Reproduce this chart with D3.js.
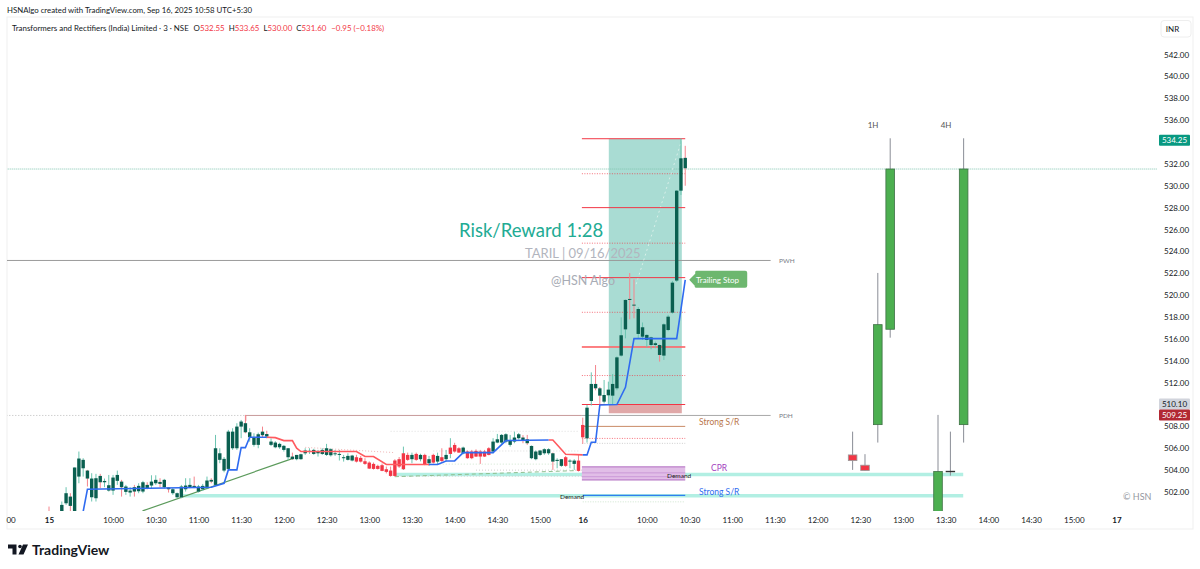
<!DOCTYPE html>
<html><head><meta charset="utf-8">
<script src="https://cdn.jsdelivr.net/npm/d3@7/dist/d3.min.js"></script>
<style>html,body{margin:0;background:#fff}svg{display:block}text{font-family:Lato,"Open Sans",sans-serif}</style>
</head><body><div id="c"></div>
<script>
// [open, high, low, close] per 3-minute bar, session of the 15th
const bars15 = [[500.2,500.67,499.5,499.9],[499.8,500.1,499.4,499.9],[499.8,500.1,499.4,499.9],[500.2,501.13,500.0,500.82],[500.97,502.44,500.82,501.89],[501.58,501.89,500.2,500.73],[500.0,504.24,499.8,504.24],[503.41,505.7,502.8,505.06],[504.17,505.09,503.41,504.94],[503.96,504.02,502.5,503.23],
[501.52,503.72,501.13,503.23],[501.43,503.66,501.13,503.26],[503.47,503.66,502.35,502.89],[502.89,503.23,502.44,503.01],[502.13,503.56,502.04,502.62],[502.13,503.56,501.74,503.32],[503.02,503.96,502.65,503.56],[502.95,503.11,501.58,502.44],[502.01,502.65,501.74,502.5],[501.95,502.44,501.58,502.13],
[502.44,502.65,501.58,502.04],[502.07,502.8,501.89,502.56],[502.04,503.02,501.89,502.89],[502.65,502.89,502.25,502.35],[502.59,503.53,502.35,502.95],[502.8,503.53,502.65,503.11],[502.92,503.26,502.44,502.74],[502.44,503.2,502.32,503.11],[502.41,502.44,501.95,502.25],[501.89,502.35,501.74,502.25],
[501.52,501.95,501.43,501.89],[501.52,502.65,501.43,502.5],[502.25,503.26,502.04,502.59],[502.44,503.26,502.35,502.65],[502.56,503.41,502.35,502.41],[502.04,502.65,501.95,502.5],[502.25,502.74,502.1,502.56],[502.35,503.41,502.25,503.05],[503.11,503.26,502.8,502.95],[502.65,507.22,502.56,506.0],
[504.94,506.0,504.63,505.54],[503.96,505.2,503.8,505.03],[504.11,507.68,504.02,507.52],[506.0,507.83,505.85,507.52],[506.0,508.29,505.85,507.98],[507.98,508.59,506.92,508.44],[508.29,509.05,507.37,507.46],[507.0,507.83,506.6,507.46],[506.31,507.37,506.15,507.0],[506.31,507.43,506.0,507.28],
[507.52,507.98,507.0,507.19],[507.3,507.6,506.9,507.07],[506.31,506.9,506.2,506.61],[506.09,506.65,506.0,506.52],[506.09,506.5,505.95,506.4],[505.85,506.3,505.7,506.22],[505.18,506.0,504.94,506.0],[505.24,505.6,504.94,505.0],[505.0,505.39,504.9,505.39],[505.0,505.5,504.95,505.45],
[505.54,506.0,505.39,505.79],[505.67,506.0,505.48,505.76],[505.48,505.95,505.4,505.85],[505.54,505.85,505.24,505.7],[505.48,506.0,505.39,505.85],[505.39,506.4,505.3,506.0],[505.36,506.0,505.24,505.91],[505.48,505.85,505.3,505.54],[505.39,505.85,504.88,505.48],[505.12,505.39,504.78,505.18],
[504.94,505.54,504.88,505.3],[504.88,505.4,504.8,505.33],[505.18,505.4,504.7,504.78],[505.12,505.3,504.7,504.78],[504.81,505.09,504.48,504.57],[504.69,504.8,504.1,504.14],[504.57,504.7,504.05,504.11],[504.39,504.5,504.05,504.11],[504.45,504.6,503.9,503.93],[504.08,504.33,503.7,503.84],
[503.96,504.33,503.4,503.47],[504.88,505.0,503.4,503.47],[505.0,505.2,504.2,504.33],[504.08,506.15,504.02,505.54],[505.39,505.6,504.85,504.94],[505.0,505.6,504.63,505.39],[505.48,505.6,504.85,504.94],[505.0,505.5,504.8,505.39],[505.39,505.5,504.45,504.54],[504.63,505.3,504.39,505.0],
[505.39,505.5,504.6,504.69],[504.78,505.6,504.48,505.3],[505.18,506.0,504.69,504.84],[505.0,505.85,504.78,505.39],[505.48,506.92,505.09,506.06],[506.3,506.5,505.6,505.7],[506.0,506.1,505.6,505.6],[505.54,506.15,505.45,506.06],[505.7,505.8,505.05,505.09],[505.7,505.85,505.0,505.09],
[505.76,505.9,505.2,505.24],[505.7,505.85,504.57,505.24],[505.7,505.85,505.2,505.24],[506.0,506.1,505.35,505.39],[505.7,506.92,505.54,506.61],[506.52,507.31,506.46,506.82],[506.52,507.3,506.4,507.22],[506.61,507.37,506.46,507.28],[506.31,507.22,506.15,506.7],[506.61,507.52,506.46,506.98],
[506.92,507.4,506.8,507.28],[506.98,507.2,506.46,506.7],[506.82,507.22,506.31,506.46],[505.09,506.25,505.0,506.21],[505.0,505.8,504.9,505.7],[505.39,505.85,505.3,505.79],[505.54,506.0,505.4,505.91],[505.54,506.0,505.4,505.91],[505.54,505.6,504.02,504.78],[504.84,505.09,504.17,504.94],
[504.39,505.0,504.3,505.0],[505.18,505.3,504.3,504.39],[504.78,505.0,504.17,504.87],[504.57,505.0,504.02,504.87],[504.87,505.39,503.87,503.93]];
// session of the 16th
const bars16 = [[508.13,508.8,506.4,507.0],[506.91,509.96,506.52,509.71],[510.32,512.94,509.9,511.88],[511.88,513.61,511.3,511.48],[511.48,511.6,509.96,510.81],[510.26,512.24,510.1,510.87],[510.84,512.09,509.96,511.36],[510.81,512.79,509.96,511.88],[511.48,514.4,511.3,514.31],[514.47,517.97,514.38,516.33],
[516.87,519.6,516.05,519.56],[519.65,522.02,517.79,519.56],[519.13,521.44,517.88,519.04],[516.45,518.9,516.05,518.73],[516.2,517.5,515.9,517.06],[515.9,516.42,515.23,516.36],[515.44,516.2,515.05,516.14],[515.44,515.75,515.14,515.6],[515.44,515.5,513.92,514.53],[514.47,517.42,514.07,517.33],
[516.81,518.2,516.7,518.03],[518.4,521.3,518.3,521.14],[521.33,529.6,521.2,529.55],[529.55,534.34,529.16,532.51],[532.55,533.65,530.0,531.6]];
const redBodies = [72,73,74,75,76,77,78,79,80,81,82,83,84,86,88,90,92,94,95,96,98,99,100,101,102,103,121,124,125];
const trailBlue = [[[8,500.21],[9,502.25],[38,502.44],[41,502.8],[42,504.02],[44,504.02],[45,506.06],[46,506.06],[47,507.0],[51,507.0]],
 [[89,504.51],[91,504.51],[93,504.84],[95,504.84],[97,505.6],[104,505.6],[107,506.7],[117,506.76]],
 [[125,505.39],[126,505.39],[127,506.55],[128,506.55],[129,509.96],[133,510.0],[135,511.57],[137,516.02],[147,516.02],[149,521.4]]];
const trailRed = [[[51,507.0],[53,506.97],[55,506.7],[57,506.7],[58,506.0],[59,505.7],[72,505.7],[74,505.24],[76,505.24],[79,504.51],[89,504.51]],
 [[117,506.76],[118,506.76],[121,505.45],[125,505.39]]];
const redSolid = [534.3,528,521.6,515.26,510];
const redDotted = [531.1,524.75,518.43,512.65,506.9];
const sketch = [[188.2,505.39,507.52,504.02,504.87,"r"],[191.1,504.45,505.46,503.96,503.96,"r"],[194.1,517.3,522.03,506.52,508.16,"g"],[197,531.53,534.34,516.11,516.88,"g"],[208.2,503.87,509.05,499,499,"g"],[211.1,503.9,507.52,503.5,503.9,"d"],[214.2,531.53,534.34,506.52,508.16,"g"]];
const priceTicks = [502,504,506,508,512,514,516,518,520,522,524,526,528,530,532,536,538,540,542];
const timeTicks = [-9,0,15,25,35,45,55,65,75,85,95,105,115,125,140,150,160,170,180,190,200,210,220,230,240,250];
const timeLabels = ["00","15","10:00","10:30","11:00","11:30","12:00","12:30","13:00","13:30","14:00","14:30","15:00","16","10:00","10:30","11:00","11:30","12:00","12:30","13:00","13:30","14:00","14:30","15:00","17"];
const boldTicks = ["15","16","17"];
const ohlc = ["532.55","533.65","530.00","531.60"];

const svg=d3.select("#c").append("svg").attr("width",1200).attr("height",569);
const x=d3.scaleLinear().domain([0,250]).range([49,49+250*4.27]);
const y=d3.scaleLinear().domain([542,502]).range([54.5,492]);
const W=[7,1193],T=17,B=529;
svg.append("rect").attr("x",W[0]).attr("y",T).attr("width",W[1]-W[0]).attr("height",B-T).attr("fill","none").attr("stroke","#efefef");
svg.append("clipPath").attr("id","pane").append("rect").attr("x",7).attr("y",T).attr("width",1150).attr("height",511-T);
const g=svg.append("g").attr("clip-path","url(#pane)");
const hl=(a,b,p,c,w,dash,op)=>g.append("line").attr("x1",x(a)).attr("x2",x(b)).attr("y1",y(p)).attr("y2",y(p)).attr("stroke",c).attr("stroke-width",w||1).attr("stroke-dasharray",dash||null).attr("opacity",op==null?1:op);

// zones
const rz=(a,b,p1,p2,c)=>g.append("rect").attr("x",x(a)).attr("width",x(b)-x(a)).attr("y",y(p1)).attr("height",y(p2)-y(p1)).attr("fill",c);
rz(131.1,148.2,534.3,510,"#a9dcd3");
rz(131.1,148.2,510,509.2,"#e0a8a8");
hl(81,214.1,503.59,"#b2efe3",3.5);
hl(31.4,214.1,501.66,"#b2efe3",3.5);
rz(124.8,149,504.3,503.1,"#e1bee7");
hl(124.8,149,504.3,"#b06cc0",1);hl(124.8,149,503.1,"#b06cc0",1);hl(124.8,149,503.75,"#c58fd3",.8);hl(124.8,149,503.4,"#c58fd3",.8);
// faint levels
hl(-10,269,531.53,"#7fc4b0",1,"1 1");
hl(-10,46,509,"#bbb",1,"1 2");
hl(46.1,124.8,509,"#c79a9a",1);
hl(124.8,169,509,"#a8a8a8",1);
hl(-10,169,523.17,"#9a9a9a",1);
g.append("line").attr("x1",x(46.1)).attr("x2",x(46.1)).attr("y1",y(509)).attr("y2",y(508.5)).attr("stroke","#e88");
hl(80,124,507.55,"#ddd",1,"1 2");
hl(90,124,505.75,"#dcdcdc",1,"1 2");
hl(81,125,503.45,"#cfcfcf",1,"1 2");
hl(100,125,504.0,"#cfcfcf",1,"1 2");
hl(88,120,504.55,"#cfe5cf",1,"1 2");
g.append("line").attr("x1",x(60)).attr("x2",x(81)).attr("y1",y(506.08)).attr("y2",y(505.6)).attr("stroke","#f0b8b8").attr("stroke-dasharray","1 2");
g.append("line").attr("x1",x(81)).attr("x2",x(123)).attr("y1",y(503.4)).attr("y2",y(503.95)).attr("stroke","#8fbf8f").attr("stroke-dasharray","4 3");
g.append("line").attr("x1",x(137.5)).attr("x2",x(148.2)).attr("y1",y(521)).attr("y2",y(534.2)).attr("stroke","#d8efe9").attr("stroke-dasharray","2 3");
// trendline
g.append("line").attr("x1",x(21.9)).attr("x2",x(56.8)).attr("y1",y(500.27)).attr("y2",y(505.03)).attr("stroke","#5b9a5b").attr("stroke-width",1.2);

// levels
redSolid.forEach(p=>hl(124.8,149,p,"#f23645",1));
hl(124.8,149,515.26,"#f77",2,null,.7);
redDotted.forEach(p=>hl(124.8,149,p,"#f23645",1,"1 1.5",.7));
hl(124.8,149,506.45,"#ccc",1,"1 1.5");
hl(124.8,149,508,"#c98a66",1);
hl(125,149,501.7,"#2f7ff0",1.2);
hl(125,149,501.1,"#cfe5cf",1,"1 1.5");

// candles
const bars=bars15.concat(bars16).map((d,i)=>({i,o:d[0],h:d[1],l:d[2],c:d[3]}));
g.selectAll(".w").data(bars).join("line").attr("x1",d=>x(d.i)).attr("x2",d=>x(d.i)).attr("y1",d=>y(d.h)).attr("y2",d=>y(d.l))
 .attr("stroke",d=>d.c>=d.o?"#6cc5b1":"#f4848c").attr("stroke-width",1);
g.selectAll(".b").data(bars).join("rect").attr("x",d=>x(d.i)-1.7).attr("width",3.4)
 .attr("y",d=>y(Math.max(d.o,d.c))).attr("height",d=>Math.max(1,Math.abs(y(d.o)-y(d.c))))
 .attr("fill",d=>redBodies.includes(d.i)?"#f23645":"#0a5f50");

// trailing stop
const ln=d3.line().x(d=>x(d[0])).y(d=>y(d[1]));
trailRed.forEach(s=>g.append("path").attr("d",ln(s)).attr("fill","none").attr("stroke","#ff5a5f").attr("stroke-width",1.6));
trailBlue.forEach(s=>g.append("path").attr("d",ln(s)).attr("fill","none").attr("stroke","#2f6bf0").attr("stroke-width",1.6));

// projected candles
const sk=g.append("g");
sk.selectAll("line").data(sketch).join("line").attr("x1",d=>x(d[0])).attr("x2",d=>x(d[0])).attr("y1",d=>y(d[2])).attr("y2",d=>y(d[3])).attr("stroke","#8a8d96").attr("stroke-width",1);
sk.selectAll("rect").data(sketch).join("rect").attr("x",d=>x(d[0])-4.3).attr("width",8.6).attr("y",d=>y(d[1])).attr("height",d=>Math.max(.6,y(d[4])-y(d[1])))
 .attr("fill",d=>d[5]=="g"?"#4caf50":d[5]=="r"?"#f23645":"#333").attr("stroke",d=>d[5]=="g"?"#3e7045":d[5]=="r"?"#999":"#333").attr("stroke-width",.8);

const txt=(t,xx,yy,s,c,o={})=>svg.append("text").text(t).attr("x",xx).attr("y",yy).attr("font-size",s).attr("fill",c).attr("text-anchor",o.a||"start").attr("dominant-baseline","central").attr("font-weight",o.w||400).attr("opacity",o.op==null?1:o.op);
txt("Risk/Reward 1:28",459,230,18.5,"#22ab94");
txt("TARIL | 09/16/2025",525,253,13,"#b2b5be");
txt("@HSN Algo",551,280,12.5,"#a8acb5");
txt("PWH",779,y(523.17),6.5,"#787b86");
txt("PDH",779,y(509),6.5,"#787b86");
txt("Strong S/R",699,422,8.5,"#b9764b");
txt("CPR",711,468,8.5,"#a43fc0");
txt("Demand",667,475,6.5,"#222");
txt("Demand",560,496,6.5,"#222");
txt("Strong S/R",699,491.5,8.5,"#2f6bf0");
txt("1H",873,125,8,"#555",{a:"middle"});
txt("4H",946,125,8,"#555",{a:"middle"});
txt("© HSN",1123,496,9,"#9598a1");

// trailing stop tag
const tx=x(149),ty=y(521.4);
svg.append("path").attr("d",`M${tx+4},${ty} l6,-6 v-2 a1.5,1.5 0 0 1 1.5,-1 H${tx+60} a2,2 0 0 1 2,2 v13 a2,2 0 0 1 -2,2 H${tx+11} a1.5,1.5 0 0 1 -1.5,-1 v-1 z`).attr("fill","#6db76f");
txt("Trailing Stop",696,ty,8,"#fff");

// axes
const ya=svg.append("g").attr("transform","translate(1158,0)").call(d3.axisRight(y).tickValues(priceTicks).tickFormat(d3.format(".2f")).tickSize(0).tickPadding(6));
ya.select(".domain").remove();ya.selectAll("text").attr("font-size",8).attr("fill","#131722").attr("font-family","Lato");
const xa=svg.append("g").attr("transform","translate(0,515)").call(d3.axisBottom(x).tickValues(timeTicks).tickFormat((d,i)=>timeLabels[i]).tickSize(0).tickPadding(2));
xa.select(".domain").remove();xa.selectAll("text").attr("font-size",8).attr("fill","#131722").attr("font-family","Lato").attr("font-weight",(d,i)=>boldTicks.includes(timeLabels[i])?700:400);

// tags
const tag=(v,c,fc,dy)=>{svg.append("rect").attr("x",1159).attr("y",y(v)+dy-5.5).attr("width",31).attr("height",11).attr("rx",1).attr("fill",c);
 txt(v.toFixed(2),1174.5,y(v)+dy,8,fc,{a:"middle"});};
tag(534.25,"#089981","#fff",1);
tag(510.10,"#d1d4dc","#131722",0.5);
tag(509.25,"#b22833","#fff",2.2);
svg.append("rect").attr("x",1161).attr("y",20.5).attr("width",30).attr("height",16.5).attr("rx",3).attr("fill","#fff").attr("stroke","#eee");
txt("INR",1172.5,28.5,8,"#131722",{a:"middle"});

// header
txt("HSNAlgo created with TradingView.com, Sep 16, 2025 10:58 UTC+5:30",7,9.5,7.8,"#131722");
const h=svg.append("text").attr("x",12).attr("y",27.5).attr("font-size",7.9).attr("dominant-baseline","central").attr("fill","#131722");
h.append("tspan").text("Transformers and Rectifiers (India) Limited · 3 · NSE");
["O","H","L","C"].forEach((k,i)=>{h.append("tspan").attr("dx",i?4:5).text(k);h.append("tspan").attr("fill","#f23645").text(ohlc[i]);});
h.append("tspan").attr("dx",5).attr("fill","#f23645").text("−0.95 (−0.18%)");

// brand
svg.append("path").attr("d","M8,544.5h8.5v10h-4v-6h-4.5z M23,544.5h5l-4.5,10h-5z").attr("fill","#131722");
svg.append("circle").attr("cx",20).attr("cy",546.5).attr("r",1.8).attr("fill","#131722");
txt("TradingView",32,549.5,14,"#131722",{w:700});
</script></body></html>
